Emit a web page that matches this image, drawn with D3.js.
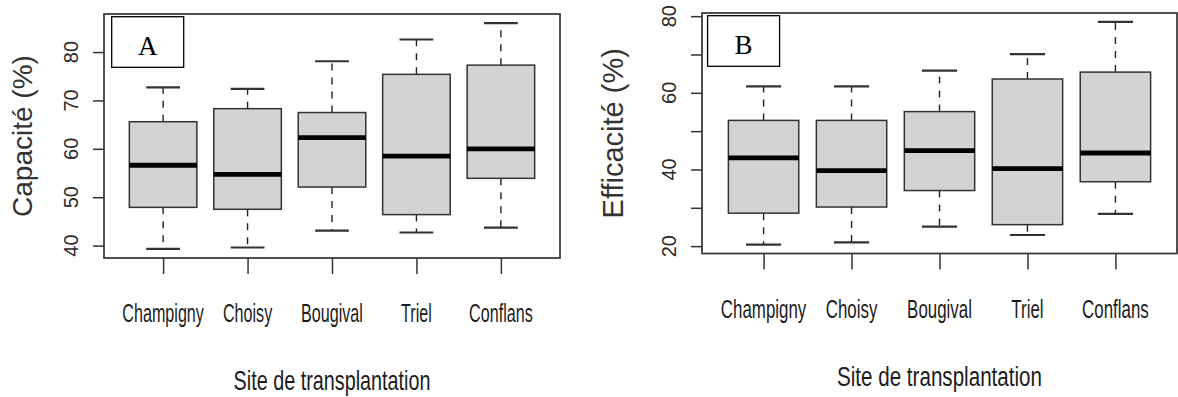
<!DOCTYPE html>
<html>
<head>
<meta charset="utf-8">
<script src="https://cdn.jsdelivr.net/npm/d3@7"></script>
<style>
  body { margin: 0; background: #fff; }
  svg text { fill: #1c1c1c; font-family: "Liberation Sans", Arial, sans-serif; }
</style>
</head>
<body>
<svg id="chart" width="1178" height="397"></svg>
<script>

var sites = ['Champigny', 'Choisy', 'Bougival', 'Triel', 'Conflans'];

// A : capacite (%) - whisker low, Q1, median, Q3, whisker high
var capLow  = [39.3, 39.6, 43.1, 42.7, 43.7];
var capQ1   = [47.9, 47.5, 52.1, 46.4, 53.9];
var capMed  = [56.6, 54.7, 62.3, 58.5, 60.0];
var capQ3   = [65.6, 68.3, 67.5, 75.4, 77.3];
var capHigh = [72.7, 72.4, 78.1, 82.6, 86.0];
var capTicks = [40, 50, 60, 70, 80];
var capTickLabels = ['40', '50', '60', '70', '80'];

// B : efficacite (%)
var effLow  = [20.4, 21.0, 25.1, 22.9, 28.4];
var effQ1   = [28.6, 30.2, 34.5, 25.6, 36.8];
var effMed  = [43.0, 39.7, 44.9, 40.2, 44.3];
var effQ3   = [52.8, 52.8, 55.1, 63.6, 65.4];
var effHigh = [61.7, 61.7, 65.8, 70.1, 78.5];
var effTicks = [20, 30, 40, 50, 60, 70, 80];
var effTickLabels = ['20', '', '40', '', '60', '', '80'];

var svg = d3.select('#chart');

function drawPanel(p) {

  var g = svg.append('g');

  var x = d3.scalePoint()
      .domain(sites)
      .range([p.left, p.right])
      .padding(0.7);   // same spread as R boxplot (0.3 .. n+0.7)

  // R style: data range + 4% each side
  var lo = d3.min(p.low), hi = d3.max(p.high), ext = (hi - lo) * 0.04;
  var y = d3.scaleLinear()
      .domain([lo - ext, hi + ext])
      .range([p.bottom, p.top]);

  var boxW = x.step() * 0.8;

  var data = sites.map(function(s, i) {
    return {site: s, low: p.low[i], q1: p.q1[i], med: p.med[i], q3: p.q3[i], high: p.high[i]};
  });

  var box = g.selectAll('.box').data(data).enter().append('g').attr('class', 'box');

  // whiskers (dashed, drawn from the box outwards)
  box.append('line')
      .attr('x1', function(d) { return x(d.site); })
      .attr('x2', function(d) { return x(d.site); })
      .attr('y1', function(d) { return y(d.q3); })
      .attr('y2', function(d) { return y(d.high); })
      .attr('stroke', '#222').attr('stroke-width', 1.4).attr('stroke-dasharray', '7,7');
  box.append('line')
      .attr('x1', function(d) { return x(d.site); })
      .attr('x2', function(d) { return x(d.site); })
      .attr('y1', function(d) { return y(d.q1); })
      .attr('y2', function(d) { return y(d.low); })
      .attr('stroke', '#222').attr('stroke-width', 1.4).attr('stroke-dasharray', '7,7');

  // staples
  ['low', 'high'].forEach(function(k) {
    box.append('line')
        .attr('x1', function(d) { return x(d.site) - boxW / 4; })
        .attr('x2', function(d) { return x(d.site) + boxW / 4; })
        .attr('y1', function(d) { return y(d[k]); })
        .attr('y2', function(d) { return y(d[k]); })
        .attr('stroke', '#333').attr('stroke-width', 2.2);
  });

  box.append('rect')
      .attr('x', function(d) { return x(d.site) - boxW / 2; })
      .attr('y', function(d) { return y(d.q3); })
      .attr('width', boxW)
      .attr('height', function(d) { return y(d.q1) - y(d.q3); })
      .attr('fill', '#d3d3d3')
      .attr('stroke', '#333').attr('stroke-width', 1.5);

  box.append('line')
      .attr('x1', function(d) { return x(d.site) - boxW / 2; })
      .attr('x2', function(d) { return x(d.site) + boxW / 2; })
      .attr('y1', function(d) { return y(d.med); })
      .attr('y2', function(d) { return y(d.med); })
      .attr('stroke', '#000').attr('stroke-width', 4.8);

  // frame
  g.append('rect')
      .attr('x', p.left).attr('y', p.top)
      .attr('width', p.right - p.left).attr('height', p.bottom - p.top)
      .attr('fill', 'none').attr('stroke', '#333').attr('stroke-width', 1.7);

  // y axis
  var yAxis = g.append('g')
      .attr('transform', 'translate(' + p.left + ',0)')
      .call(d3.axisLeft(y).tickValues(p.ticks).tickSize(11).tickFormat(''));
  yAxis.select('.domain').remove();
  yAxis.selectAll('.tick line').attr('stroke', '#333').attr('stroke-width', 1.5);

  g.selectAll('.ylab').data(p.ticks).enter().append('text')
      .attr('class', 'ylab')
      .attr('transform', function(d) { return 'translate(' + (p.left - 26) + ',' + y(d) + ') rotate(-90)'; })
      .attr('text-anchor', 'middle')
      .style('font-size', '20px')
      .style('fill', '#2a2a2a')
      .text(function(d, i) { return p.tickLabels[i]; });

  // x axis
  var xAxis = g.append('g')
      .attr('transform', 'translate(0,' + p.bottom + ')')
      .call(d3.axisBottom(x).tickSize(16).tickFormat(''));
  xAxis.select('.domain').remove();
  xAxis.selectAll('.tick line').attr('stroke', '#333').attr('stroke-width', 1.5);

  g.selectAll('.xlab').data(sites).enter().append('text')
      .attr('class', 'xlab')
      .attr('transform', function(d) { return 'translate(' + x(d) + ',' + (p.bottom + 64) + ') scale(' + p.sxTick + ',1)'; })
      .attr('text-anchor', 'middle')
      .style('font-size', '26px')
      .text(function(d) { return d; });

  g.append('text')
      .attr('transform', 'translate(' + ((p.left + p.right) / 2) + ',' + (p.bottom + 132) + ') scale(' + p.sxTitle + ',1)')
      .attr('text-anchor', 'middle')
      .style('font-size', '28px')
      .text('Site de transplantation');

  g.append('text')
      .attr('transform', 'translate(' + p.yTitleX + ',' + ((p.top + p.bottom) / 2) + ') rotate(-90)')
      .attr('text-anchor', 'middle')
      .style('font-size', p.yTitleSize + 'px')
      .style('fill', '#333')
      .text(p.yTitle);

  // panel letter box
  g.append('rect')
      .attr('x', p.left + p.boxDx).attr('y', p.top + 2.7)
      .attr('width', 72).attr('height', 50.6)
      .attr('fill', '#fff').attr('stroke', '#000').attr('stroke-width', 1.3);
  g.append('text')
      .attr('x', p.left + p.boxDx + 36).attr('y', p.top + 41)
      .attr('text-anchor', 'middle')
      .style('font-family', '"Liberation Serif", "Times New Roman", serif')
      .style('font-size', '27px')
      .style('fill', '#000')
      .text(p.letter);
}

drawPanel({
  left: 104, right: 560, top: 14, bottom: 258,
  low: capLow, q1: capQ1, med: capMed, q3: capQ3, high: capHigh,
  ticks: capTicks, tickLabels: capTickLabels,
  yTitle: 'Capacité (%)', yTitleX: 32, yTitleSize: 28,
  sxTick: 0.62, sxTitle: 0.707,
  letter: 'A', boxDx: 7.7
});

drawPanel({
  left: 702, right: 1177, top: 13, bottom: 253.5,
  low: effLow, q1: effQ1, med: effMed, q3: effQ3, high: effHigh,
  ticks: effTicks, tickLabels: effTickLabels,
  yTitle: 'Efficacité (%)', yTitleX: 623, yTitleSize: 29,
  sxTick: 0.65, sxTitle: 0.736,
  letter: 'B', boxDx: 5.6
});

</script>
</body>
</html>
